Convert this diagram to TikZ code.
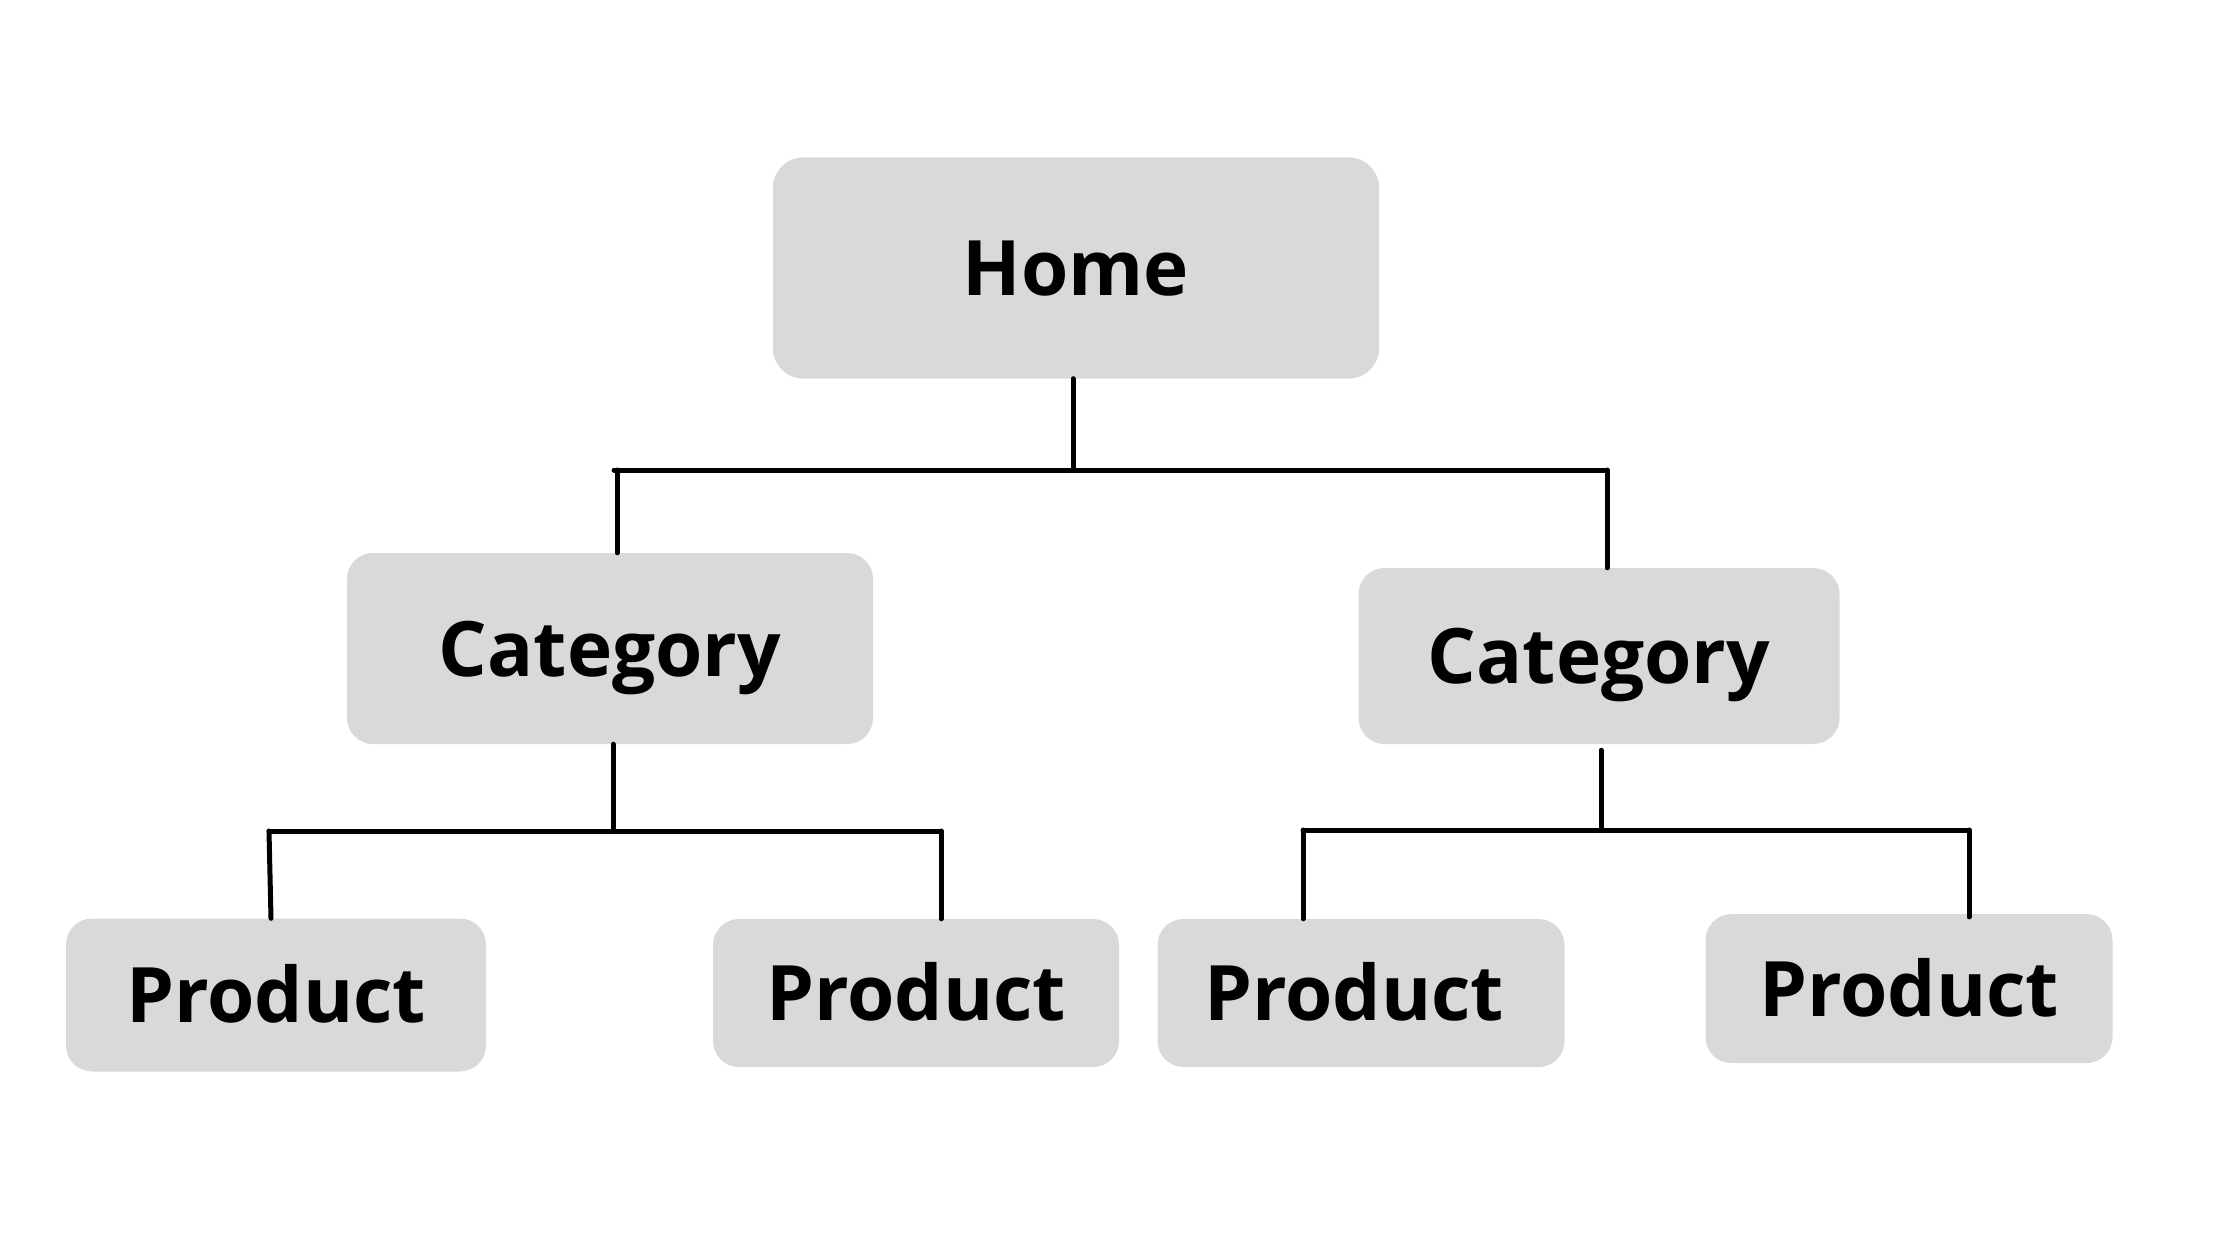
\documentclass[tikz,border=0pt]{standalone}
\usepackage{fontspec}
\setmainfont{Open Sans}
\definecolor{boxgray}{HTML}{D9D9D9}
\begin{document}
\begin{tikzpicture}[x=1pt,y=-1pt,
  box/.style={fill=boxgray, rounded corners=26pt, inner sep=0pt, text height=55pt, text depth=0pt,
    font=\fontsize{76.5}{90}\selectfont\bfseries},
  link/.style={line width=5pt, line cap=round}]
\useasboundingbox (0,0) rectangle (2240,1260);
% nodes
\node[box, minimum width=606pt, minimum height=221pt, rounded corners=30pt] (home) at (1076,268) {Home};
\node[box, minimum width=526pt, minimum height=191pt] (catL) at (610,648.5) {Category};
\node[box, minimum width=481pt, minimum height=176pt] (catR) at (1599,656) {Category};
\node[box, minimum width=420pt, minimum height=153pt] (p1) at (276,995) {Product};
\node[box, minimum width=406pt, minimum height=148pt] (p2) at (916,993) {Product};
\node[box, minimum width=407pt, minimum height=148pt] (p3) at (1361,993) {\hspace*{-14pt}Product};
\node[box, minimum width=407pt, minimum height=149pt] (p4) at (1909,988.6) {Product};
% junction coordinates
\coordinate (hj) at (1073,470);
\coordinate (hbl) at (614,470);
\coordinate (hbr) at (1607,470);
\coordinate (dl) at (617,470);
\coordinate (lj) at (613,828);
\coordinate (lbl) at (269,831);
\coordinate (lbr) at (941,831);
\coordinate (rj) at (1601,829);
\coordinate (rbl) at (1303,830);
\coordinate (rbr) at (1969,830);
% connectors
\draw[link] (home.south -| hj) -- (hj);
\draw[link] (hbl) -- (hbr);
\draw[link] (dl) -- (catL.north -| dl);
\draw[link] (hbr) -- (catR.north -| hbr);
\draw[link] (catL.south -| lj) -- (lj);
\draw[link] (lbl) -- (lbr);
\draw[link] (lbl) -- ([xshift=2pt]p1.north -| lbl);
\draw[link] (lbr) -- (p2.north -| lbr);
\draw[link] ([yshift=-6pt]catR.south -| rj) -- (rj);
\draw[link] (rbl) -- (rbr);
\draw[link] (rbl) -- (p3.north -| rbl);
\draw[link] (rbr) -- ([yshift=-3pt]p4.north -| rbr);
\end{tikzpicture}
\end{document}
